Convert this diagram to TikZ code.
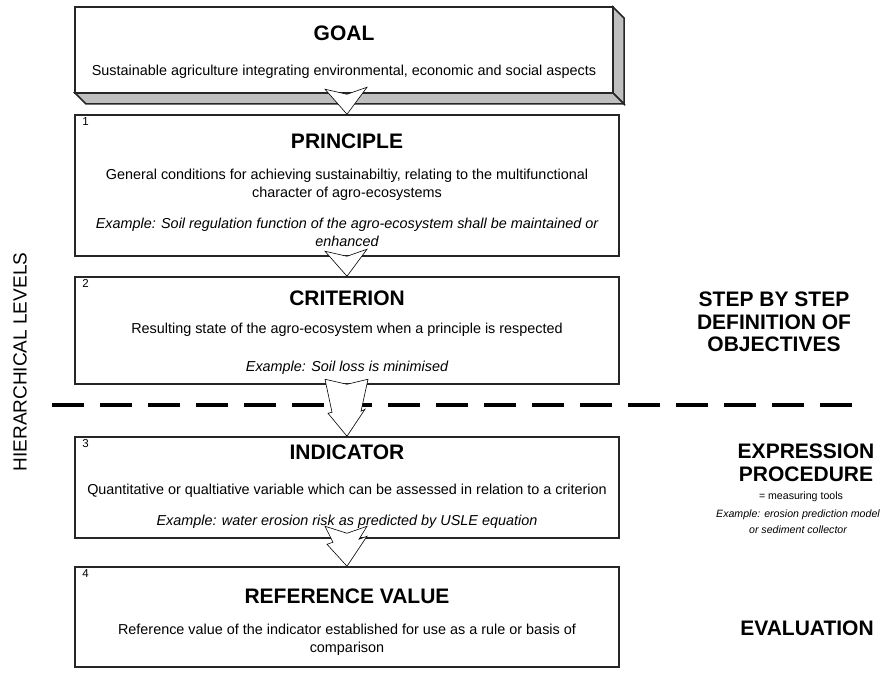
\documentclass[tikz,border=0pt]{standalone}
\usepackage{fontspec}
\setmainfont{Liberation Sans}
\begin{document}
\begin{tikzpicture}[x=1pt,y=-1pt,
  box/.style={draw=black!85, line width=1.5pt, minimum width=544pt, inner sep=0pt},
  ttl/.style={font=\fontsize{21}{24}\selectfont\bfseries},
  body/.style={font=\fontsize{14.4}{18}\selectfont, align=center},
  ex/.style={font=\fontsize{14.4}{18}\selectfont\itshape, align=center},
  num/.style={font=\fontsize{11.5}{13}\selectfont, anchor=north west, inner sep=0pt},
  sidettl/.style={font=\fontsize{21}{22.5}\selectfont\bfseries, align=center},
  sidenote/.style={font=\fontsize{10.6}{16}\selectfont, align=center},
  flow/.style={draw=black, fill=white, line width=0.6pt, line join=miter},
  face/.style={draw=black!85, fill=black!25, line width=1.5pt, line join=miter},
  pics/shortflow/.style={code={
    \draw[flow] (-22,-25) -- (0,-20) -- (20,-27) -- (0,0) -- cycle;}},
  pics/flowthree/.style={code={
    \draw[flow] (-22,-57) -- (0,-52) -- (21,-57) -- (14,-25) -- (18,-27)
      -- (0,0) -- (-19,-23) -- (-15,-24) -- cycle;}},
  pics/flowfour/.style={code={
    \draw[flow] (-22,-40) -- (0,-33) -- (20,-40) -- (12,-27) -- (20,-30)
      -- (0,0) -- (-20,-22) -- (-14,-24) -- cycle;}}
]
\useasboundingbox (0,0) rectangle (885,674);

% goal box with its raised edge
\coordinate (gtl) at (75,7);
\coordinate (gbr) at (613,93);
\draw[face] (gbr |- gtl) -- ++(11,11) -- ++(0,86) -- (gbr) -- cycle;
\draw[face] (gtl |- gbr) -- (gbr) -- ++(11,11) -- ++(-538,0) -- cycle;
\node[draw=black!85, line width=1.5pt, fill=white, inner sep=0pt,
      minimum width=538pt, minimum height=86pt] (goal) at (344,50) {};
\node[ttl] at (344,33) {GOAL};
\node[body] at (344,72) {Sustainable agriculture integrating environmental, economic and social aspects};

% level boxes
\node[box, minimum height=141pt] (principle) at (347,185.5) {};
\node[box, minimum height=107pt] (criterion) at (347,330.5) {};
\node[box, minimum height=101pt] (indicator) at (347,487.5) {};
\node[box, minimum height=100pt] (refvalue) at (347,617) {};

\node[num] at ([shift={(8,3)}]principle.north west) {1};
\node[ttl] at (347,141) {PRINCIPLE};
\node[body] at (347,185) {General conditions for achieving sustainabiltiy, relating to the multifunctional\\character of agro-ecosystems};
\node[ex] at (347,232) {Example: Soil regulation function of the agro-ecosystem shall be maintained or\\enhanced};

\node[num] at ([shift={(8,3)}]criterion.north west) {2};
\node[ttl] at (347,298) {CRITERION};
\node[body] at (347,330) {Resulting state of the agro-ecosystem when a principle is respected};
\node[ex] at (347,368) {Example: Soil loss is minimised};

\node[num] at ([shift={(8,3)}]indicator.north west) {3};
\node[ttl] at (347,452) {INDICATOR};
\node[body] at (347,491) {Quantitative or qualtiative variable which can be assessed in relation to a criterion};
\node[ex] at (347,522) {Example: water erosion risk as predicted by USLE equation};

\node[num] at ([shift={(8,3)}]refvalue.north west) {4};
\node[ttl] at (347,596) {REFERENCE VALUE};
\node[body] at (347,639.5) {Reference value of the indicator established for use as a rule or basis of\\comparison};

% boundary between objectives and their expression
\coordinate (dashL) at (52,405);
\coordinate (dashR) at (860,405);
\draw[line width=4pt, dash pattern=on 32pt off 16pt] (dashL) -- (dashR);

% flow arrows between levels
\pic at (principle.north) {shortflow};
\pic at (criterion.north) {shortflow};
\pic at (indicator.north) {flowthree};
\pic at (refvalue.north) {flowfour};

% side labels
\node[rotate=90, font=\fontsize{19}{22}\selectfont] (hier) at (20,362) {HIERARCHICAL LEVELS};
\node[sidettl] (steps) at (774,322) {STEP BY STEP\\DEFINITION OF\\OBJECTIVES};
\node[sidettl] (expr) at (806,463) {EXPRESSION\\PROCEDURE};
\node[sidenote] (tools) at (801,497) {= measuring tools};
\node[sidenote, font=\fontsize{10.6}{16}\selectfont\itshape] (toolex) at (798,522) {Example: erosion prediction model\\or sediment collector};
\node[sidettl] (eval) at (807,628) {EVALUATION};
\end{tikzpicture}
\end{document}
